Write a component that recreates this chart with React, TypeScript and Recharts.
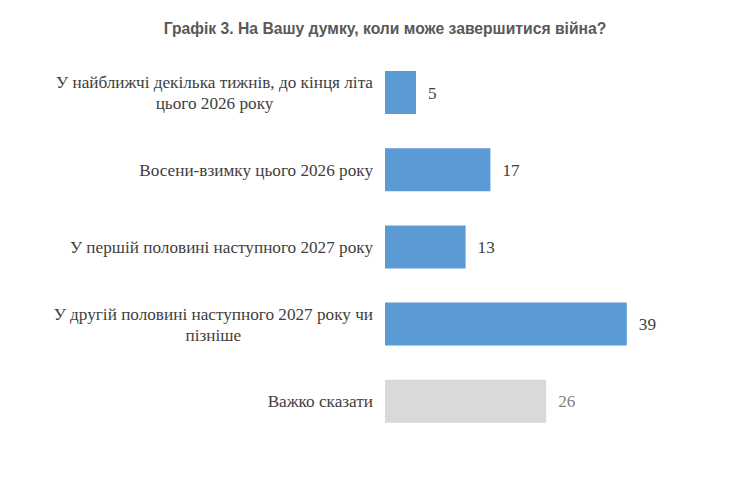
import { BarChart, Bar, XAxis, YAxis, Cell, LabelList } from 'recharts'

const TITLE = 'Графік 3. На Вашу думку, коли може завершитися війна?'

const categories = [
  'У найближчі декілька тижнів, до кінця літа\nцього 2026 року',
  'Восени-взимку цього 2026 року',
  'У першій половині наступного 2027 року',
  'У другій половині наступного 2027 року чи\nпізніше',
  'Важко сказати',
]

const values = [5, 17, 13, 39, 26]

const BAR_COLORS = ['#5b9bd5', '#5b9bd5', '#5b9bd5', '#5b9bd5', '#d9d9d9']
const VALUE_COLORS = ['#404040', '#404040', '#404040', '#404040', '#7f7f7f']

const chartData = categories.map((name, i) => ({ name, value: values[i] }))

const SERIF = 'Liberation Serif'
const LABEL_FONT_SIZE = 17.2

let ctx: CanvasRenderingContext2D | null = null
function textWidth(s: string): number {
  if (!ctx) ctx = document.createElement('canvas').getContext('2d')
  if (!ctx) return s.length * 7.5
  ctx.font = `${LABEL_FONT_SIZE}px "${SERIF}"`
  return ctx.measureText(s).width
}

const labelStyle = { fontFamily: SERIF, fontSize: LABEL_FONT_SIZE }

function CategoryTick(props: any) {
  const { x, y, payload } = props
  const lines: string[] = String(payload.value).split('\n')
  const lineH = 21
  const startY = y - ((lines.length - 1) * lineH) / 2
  if (lines.length === 1) {
    return (
      <text x={x} y={y} dy="0.35em" textAnchor="end" fill="#404040" style={labelStyle}>
        {lines[0]}
      </text>
    )
  }
  const maxW = Math.max(...lines.map(textWidth))
  const cx = x - maxW / 2
  return (
    <text textAnchor="middle" fill="#404040" style={labelStyle}>
      {lines.map((l, i) => (
        <tspan key={i} x={cx} y={startY + i * lineH} dy="0.35em">
          {l}
        </tspan>
      ))}
    </text>
  )
}

function ValueLabel(props: any) {
  const { x, y, width, height, value, index } = props
  return (
    <text x={x + width + 12} y={y + height / 2} dy="0.35em" fill={VALUE_COLORS[index]} style={labelStyle}>
      {value}
    </text>
  )
}

export default function App() {
  return (
    <div style={{ position: 'absolute', left: 0, top: 0, width: 730, height: 477, background: '#fff' }}>
      <div
        style={{
          position: 'absolute',
          top: 20,
          left: 0,
          width: 770,
          textAlign: 'center',
          fontFamily: 'Liberation Sans',
          fontWeight: 'bold',
          fontSize: 15.7,
          color: '#595959',
        }}
      >
        {TITLE}
      </div>
      <BarChart
        width={730}
        height={477}
        data={chartData}
        layout="vertical"
        margin={{ top: 54, right: 35, bottom: 37, left: 0 }}
        barCategoryGap={17}
      >
        <XAxis type="number" domain={[0, 50]} hide />
        <YAxis
          type="category"
          dataKey="name"
          width={385}
          axisLine={false}
          tickLine={false}
          tickSize={0}
          tickMargin={12}
          tick={<CategoryTick />}
          interval={0}
        />
        <Bar dataKey="value" isAnimationActive={false}>
          {chartData.map((_, i) => (
            <Cell key={i} fill={BAR_COLORS[i]} />
          ))}
          <LabelList dataKey="value" content={<ValueLabel />} />
        </Bar>
      </BarChart>
    </div>
  )
}
